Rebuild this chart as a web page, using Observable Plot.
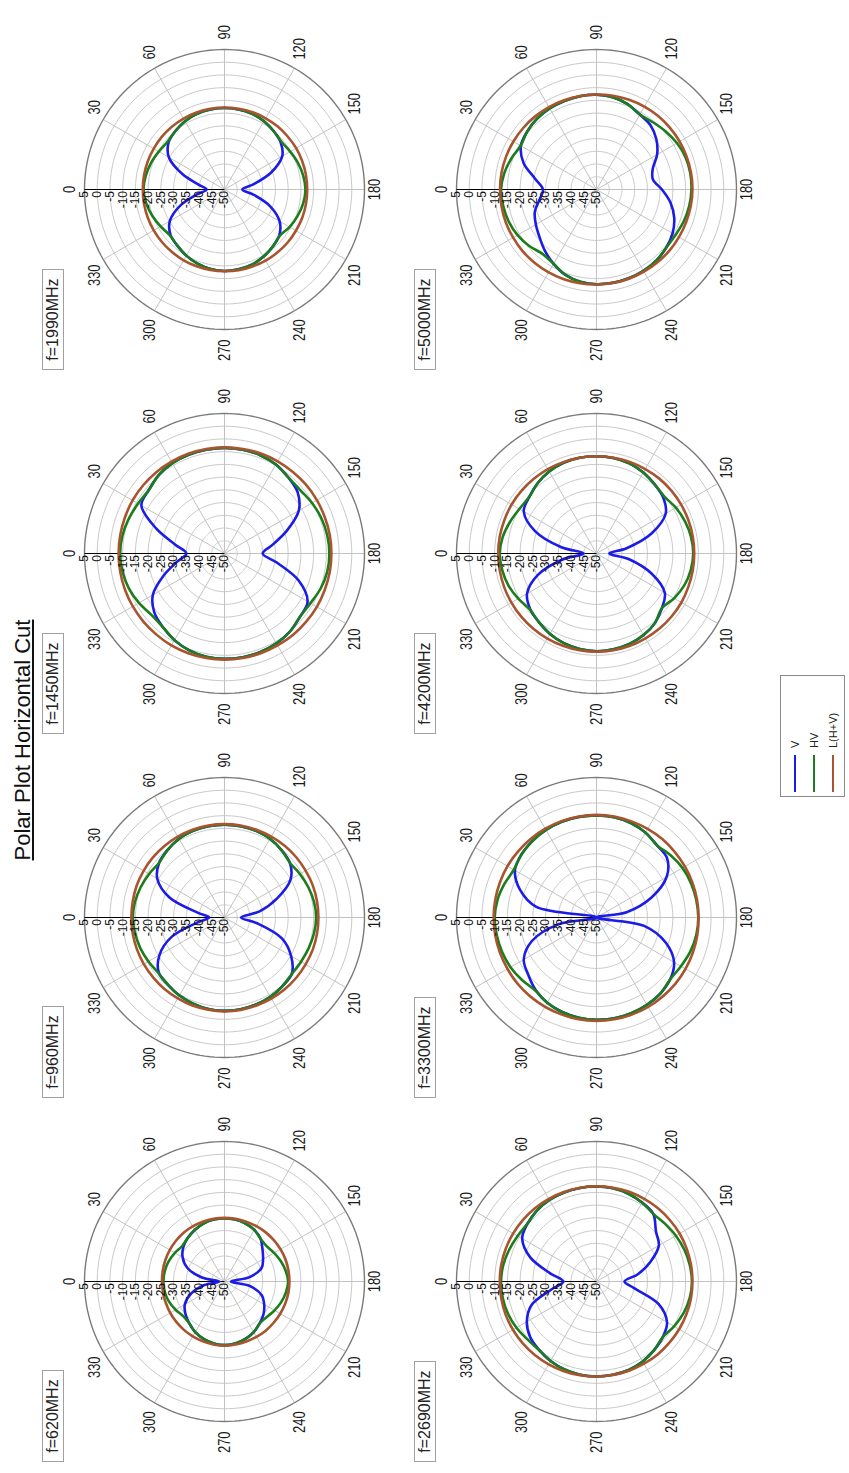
<!DOCTYPE html>
<html>
<head>
<meta charset="utf-8">
<script src="https://cdn.jsdelivr.net/npm/d3@7"></script>
<script src="https://cdn.jsdelivr.net/npm/@observablehq/plot@0.6"></script>
<style>
html,body{margin:0;padding:0;background:#fff;}
body{width:849px;height:1473px;overflow:hidden;position:relative;font-family:"Liberation Sans",Arial,sans-serif;}
#page{position:absolute;left:0;top:0;width:1473px;height:849px;transform-origin:0 0;transform:translate(0px,1473px) rotate(-90deg);background:#fff;}
#title{position:absolute;left:0;width:1466px;top:12px;text-align:center;font-size:22px;line-height:22px;text-decoration:underline;color:#111;}
.cell{position:absolute;width:364px;height:372px;}
.cell svg{position:absolute;left:0;top:0;overflow:visible;}
.flabel{position:absolute;left:2px;top:4px;border:1px solid #a0a0a0;background:#fff;font-size:16px;line-height:20px;padding:0 8px;color:#222;z-index:2;white-space:nowrap;}
#legend{position:absolute;left:676px;top:780px;width:122px;height:65px;border:1px solid #8a8a8a;box-sizing:border-box;background:#fff;}
.litem{position:absolute;left:0;width:120px;height:14px;}
.lline{position:absolute;left:4px;top:6px;width:37px;height:2px;}
.ltext{position:absolute;left:48px;top:0;font-size:11px;line-height:14px;color:#222;}
</style>
</head>
<body>
<div id="page">
  <div id="title">Polar Plot Horizontal Cut</div>
  <div id="legend"></div>
</div>
<script>
// ---------- chart values ----------
const title = "Polar Plot Horizontal Cut";
const freqLabels = ["f=620MHz","f=960MHz","f=1450MHz","f=1990MHz","f=2690MHz","f=3300MHz","f=4200MHz","f=5000MHz"];
const seriesNames = ["V","HV","L(H+V)"];
const seriesColors = ["#1c1ce8","#1b7d1b","#a8552f"];
const angleTicks = [0,30,60,90,120,150,180,210,240,270,300,330];
const radialTicks = [5,0,-5,-10,-15,-20,-25,-30,-35,-40,-45,-50];
const angles = [0,10,20,30,40,50,60,70,80,90,100,110,120,130,140,150,160,170,180,190,200,210,220,230,240,250,260,270,280,290,300,310,320,330,340,350];

const v620  = [-48,-41,-34.5,-31,-28.9,-27.6,-26.6,-25.8,-25.3,-25.2,-25.3,-25.8,-26.6,-28,-30.5,-32.5,-34.5,-40,-47.5,-40,-34.5,-32,-30,-28.5,-27,-26,-25.3,-25,-25.3,-26,-27,-28.5,-30,-32,-36,-42];
const hv620 = [-26,-26.2,-26.7,-27.5,-28.3,-27.6,-26.6,-25.8,-25.3,-25.2,-25.3,-25.8,-26.6,-28,-28.4,-27.5,-26.5,-25.6,-25,-25.5,-26.3,-27.3,-28.3,-28.5,-27,-26,-25.3,-25,-25.3,-26,-27,-28.5,-28.8,-27.8,-26.8,-26.2];
const l620  = [-25.5,-25.4,-25.3,-25.2,-25.1,-25,-25,-25,-25,-25,-25,-25,-24.9,-24.8,-24.7,-24.6,-24.5,-24.5,-24.5,-24.5,-24.6,-24.7,-24.8,-24.8,-24.9,-24.9,-24.9,-24.8,-24.9,-25,-25.1,-25.2,-25.3,-25.4,-25.5,-25.5];

const v960  = [-44,-39.5,-27,-19.5,-16.5,-15.3,-14.3,-13.8,-13.6,-13.5,-13.6,-13.8,-14.3,-15.3,-16.5,-20,-28,-36,-43.5,-37,-26,-19.8,-15.5,-14.7,-14,-13.6,-13.4,-13.3,-13.5,-14,-14.6,-15.5,-16.3,-20.5,-28,-39.5];
const hv960 = [-14,-14.3,-15,-15.8,-16.5,-15.3,-14.3,-13.8,-13.6,-13.5,-13.6,-13.8,-14.3,-15.3,-16.5,-15.8,-15,-14.3,-14,-14.3,-14.8,-15.3,-15.5,-14.7,-14,-13.6,-13.4,-13.3,-13.5,-14,-14.6,-15.5,-16.1,-15.5,-14.8,-14.3];
const l960  = [-13.4,-13.4,-13.3,-13.3,-13.3,-13.3,-13.3,-13.3,-13.3,-13.3,-13.3,-13.3,-13.3,-13.2,-13.2,-13.2,-13.1,-13.1,-13.1,-13.1,-13.1,-13.2,-13.2,-13.2,-13.2,-13.2,-13.1,-13.1,-13.2,-13.2,-13.3,-13.3,-13.4,-13.4,-13.4,-13.4];

const v1450  = [-35,-30.5,-21.5,-12.3,-11.2,-9.8,-9,-8.7,-8.6,-8.5,-8.6,-8.9,-9.6,-11,-12.5,-16.3,-24,-31,-35,-29,-19,-12.3,-11.3,-10,-9.2,-8.8,-8.6,-8.6,-8.8,-9.5,-10.7,-12.3,-14,-17.5,-24.5,-31];
const hv1450 = [-9,-9.3,-10,-10.8,-11.2,-9.8,-9,-8.7,-8.6,-8.5,-8.6,-8.9,-9.6,-11,-11.2,-10.3,-9.5,-9,-8.8,-9,-9.8,-11,-11.3,-10,-9.2,-8.8,-8.6,-8.6,-8.8,-9.5,-10.7,-12.3,-12.5,-11.2,-10,-9.3];
const l1450  = [-8.4,-8.4,-8.4,-8.3,-8.3,-8.3,-8.3,-8.3,-8.3,-8.3,-8.3,-8.2,-8.2,-8.2,-8.1,-8.1,-8.1,-8,-8,-8,-8.1,-8.1,-8.2,-8.2,-8.3,-8.3,-8.3,-8.3,-8.3,-8.3,-8.3,-8.4,-8.4,-8.4,-8.4,-8.4];

const v1990  = [-43,-40,-32.5,-24.8,-21.3,-20,-19,-18.4,-18.1,-18,-18.1,-18.4,-19,-20,-21.2,-23.8,-30.5,-38.5,-43,-38.5,-31,-25,-21.9,-20.6,-19.5,-18.6,-18.2,-18,-18.3,-19,-20,-21.2,-22.3,-25.2,-31.5,-39];
const hv1990 = [-18.2,-18.6,-19.3,-20.2,-20.8,-20,-19,-18.4,-18.1,-18,-18.1,-18.4,-19,-20,-20.8,-20.2,-19.3,-18.6,-18.2,-18.6,-19.5,-20.5,-21.7,-20.6,-19.5,-18.6,-18.2,-18,-18.3,-19,-20,-21.2,-22,-21,-19.8,-18.8];
const l1990  = [-17.9,-17.9,-17.9,-17.9,-17.8,-17.8,-17.8,-17.8,-17.8,-17.8,-17.8,-17.7,-17.7,-17.6,-17.6,-17.5,-17.5,-17.5,-17.5,-17.5,-17.5,-17.6,-17.6,-17.7,-17.7,-17.8,-17.8,-17.9,-17.9,-17.9,-17.9,-17.9,-17.9,-17.9,-17.9,-17.9];

const v2690  = [-37,-31.5,-22.3,-16.3,-14.6,-13.6,-13,-12.8,-12.7,-12.7,-12.8,-13.3,-14.2,-15.3,-19.5,-21.7,-27.5,-33.5,-39,-35,-24,-18,-16,-14.8,-13.7,-13,-12.8,-12.7,-12.8,-13.2,-13.9,-14.9,-16,-18.4,-22.8,-32];
const hv2690 = [-12.5,-12.8,-13.5,-14.2,-14.6,-13.6,-13,-12.8,-12.7,-12.7,-12.8,-13.3,-14.2,-15.3,-14.8,-14,-13.3,-12.8,-12.5,-12.8,-13.6,-14.8,-16,-14.8,-13.7,-13,-12.8,-12.7,-12.8,-13.2,-13.9,-14.9,-14.6,-13.7,-13,-12.6];
const l2690  = [-12,-12,-12.1,-12.2,-12.3,-12.4,-12.5,-12.6,-12.6,-12.6,-12.6,-12.5,-12.5,-12.4,-12.4,-12.3,-12.3,-12.3,-12.3,-12.3,-12.4,-12.5,-12.6,-12.6,-12.7,-12.7,-12.7,-12.7,-12.6,-12.5,-12.4,-12.3,-12.2,-12.1,-12,-12];

const v3300  = [-50,-26,-18,-13,-11.5,-10.8,-10.3,-10,-9.9,-9.9,-10,-10.5,-11.5,-13,-13.8,-18.2,-27,-38,-50,-31,-21,-14.8,-12.2,-11,-10.4,-10,-9.8,-9.8,-10,-10.5,-11.3,-12.8,-15,-17,-23,-35];
const hv3300 = [-10,-10.5,-11.5,-12.5,-11.5,-10.8,-10.3,-10,-9.9,-9.9,-10,-10.5,-11.5,-13,-12,-11,-10.5,-10.2,-10,-10.2,-10.8,-11.7,-12.2,-11,-10.4,-10,-9.8,-9.8,-10,-10.5,-11.3,-12.6,-11.8,-11,-10.5,-10.2];
const l3300  = [-9.6,-9.6,-9.6,-9.6,-9.7,-9.7,-9.7,-9.7,-9.7,-9.7,-9.7,-9.8,-9.8,-9.8,-9.9,-9.9,-9.9,-9.9,-9.9,-9.8,-9.7,-9.6,-9.5,-9.5,-9.4,-9.4,-9.4,-9.4,-9.4,-9.5,-9.5,-9.5,-9.5,-9.6,-9.6,-9.6];

const v4200  = [-45,-36,-24.3,-17,-15.5,-14,-12.8,-12.1,-11.8,-11.8,-11.9,-12.3,-13.2,-14.5,-15.8,-18.6,-27,-38,-45,-37,-27,-19,-16.5,-14.3,-13,-12.2,-11.8,-11.6,-11.9,-12.5,-13.5,-14.8,-16,-18.5,-25.5,-36.5];
const hv4200 = [-12,-12.6,-13.8,-15,-15.5,-14,-12.8,-12.1,-11.8,-11.8,-11.9,-12.3,-13.2,-14.5,-15.2,-14,-13,-12.3,-12,-12.4,-13.3,-14.8,-16.5,-14.3,-13,-12.2,-11.8,-11.6,-11.9,-12.5,-13.5,-14.8,-15.8,-14.5,-13.2,-12.4];
const l4200  = [-11.4,-11.4,-11.5,-11.5,-11.6,-11.7,-11.7,-11.8,-11.8,-11.8,-11.8,-11.7,-11.7,-11.6,-11.6,-11.6,-11.6,-11.6,-11.6,-11.6,-11.6,-11.5,-11.5,-11.5,-11.5,-11.4,-11.4,-11.4,-11.4,-11.4,-11.4,-11.4,-11.4,-11.4,-11.4,-11.4];

const v5000  = [-29,-25.5,-19.5,-15.7,-14.5,-13.7,-13.2,-13,-12.8,-12.8,-13.2,-14.3,-16,-17,-19.3,-22.5,-26.5,-27.5,-24.3,-20.5,-17.5,-15.5,-14.3,-13.5,-13.1,-12.9,-12.8,-12.8,-13.2,-14.3,-16.3,-18.5,-20.8,-22.5,-24.2,-27.3];
const hv5000 = [-12.5,-13.2,-14.4,-15.6,-14.5,-13.7,-13.2,-13,-12.8,-12.8,-13.2,-14.3,-16,-15.5,-14.5,-13.5,-12.8,-12.6,-12.7,-13,-13.5,-14.2,-14.3,-13.5,-13.1,-12.9,-12.8,-12.8,-13.2,-14.3,-16.3,-17,-15.5,-14.2,-13.3,-12.8];
const l5000  = [-12.1,-12.1,-12.2,-12.3,-12.4,-12.5,-12.6,-12.7,-12.7,-12.7,-12.6,-12.5,-12.4,-12.3,-12.3,-12.3,-12.3,-12.3,-12.3,-12.4,-12.5,-12.6,-12.6,-12.7,-12.7,-12.7,-12.7,-12.7,-12.6,-12.5,-12.4,-12.3,-12.2,-12.2,-12.1,-12.1];

const panelSeries = [
  [v620, hv620, l620], [v960, hv960, l960], [v1450, hv1450, l1450], [v1990, hv1990, l1990],
  [v2690, hv2690, l2690], [v3300, hv3300, l3300], [v4200, hv4200, l4200], [v5000, hv5000, l5000]
];

// ---------- layout ----------
const FONT = '"Liberation Sans", Arial, sans-serif';
const CELL_W = 364, CELL_H = 372, CELL_X0 = 9.3, CELL_Y0 = 37.5;
const R_PX = 140;                       // pixel radius of the outer (5 dB) ring
const DB_MIN = radialTicks[radialTicks.length - 1], DB_MAX = radialTicks[0];
const SPAN = DB_MAX - DB_MIN;           // 55 units
const K = R_PX / SPAN;                  // px per unit
const LABEL_R = 150 / K;                // angle label radius (units)
const NARROW = 0.76;

const rad = a => a * Math.PI / 180;
const P = (a, r) => ({x: r * Math.sin(rad(a)), y: r * Math.cos(rad(a))});   // r in units from centre
const fromDb = db => db - DB_MIN;
const circleAngles = d3.range(0, 362, 2);

function panel(series) {
  const innerRings = radialTicks.slice(1, -1).flatMap(t => circleAngles.map(a => ({t, ...P(a, fromDb(t))})));
  const outerRing = circleAngles.map(a => P(a, fromDb(DB_MAX)));
  const pts = vals => angles.map((a, i) => P(a, fromDb(vals[i])));
  const lab = (filter, opts) => Plot.text(angleTicks.filter(filter), {
    x: a => P(a, LABEL_R).x, y: a => P(a, LABEL_R).y, text: a => String(a),
    fontSize: 17, fill: "#1a1a1a", ...opts
  });
  return Plot.plot({
    width: CELL_W, height: CELL_H, margin: 0,
    x: {domain: [-CELL_W / 2 / K, CELL_W / 2 / K], axis: null},
    y: {domain: [-CELL_H / 2 / K, CELL_H / 2 / K], axis: null},
    style: {background: "transparent", overflow: "visible", fontFamily: FONT},
    marks: [
      Plot.line(innerRings, {x: "x", y: "y", z: "t", stroke: "#c9c9c9", strokeWidth: 1}),
      Plot.link(angleTicks.filter(a => a !== 0), {
        x1: a => P(a, 0).x, y1: a => P(a, 0).y, x2: a => P(a, SPAN).x, y2: a => P(a, SPAN).y,
        stroke: "#c2c2c2", strokeWidth: 1
      }),
      Plot.line(outerRing, {x: "x", y: "y", stroke: "#7a7a7a", strokeWidth: 1.4}),
      Plot.link([0], {
        x1: a => P(a, 0).x, y1: a => P(a, 0).y, x2: a => P(a, SPAN).x, y2: a => P(a, SPAN).y,
        stroke: "#000", strokeWidth: 1
      }),
      ...series.map((vals, k) => Plot.line(pts(vals), {
        x: "x", y: "y", stroke: seriesColors[k], strokeWidth: 2.6, curve: "catmull-rom-closed"
      })),
      Plot.text(radialTicks, {
        x: t => P(0, fromDb(t)).x, y: t => P(0, fromDb(t)).y, text: t => String(t),
        textAnchor: "end", lineAnchor: "middle", dx: -1.5, fontSize: 12, fill: "#111"
      }),
      lab(a => a === 0, {textAnchor: "middle", lineAnchor: "bottom"}),
      lab(a => a === 180, {textAnchor: "middle", lineAnchor: "middle"}),
      lab(a => a > 0 && a < 180, {textAnchor: "start", lineAnchor: "middle"}),
      lab(a => a > 180, {textAnchor: "end", lineAnchor: "middle"})
    ]
  });
}

const page = document.getElementById("page");
document.getElementById("title").textContent = title;

panelSeries.forEach((series, i) => {
  const col = i % 4, row = Math.floor(i / 4);
  const cell = document.createElement("div");
  cell.className = "cell";
  cell.style.left = (CELL_X0 + col * CELL_W) + "px";
  cell.style.top = (CELL_Y0 + row * CELL_H) + "px";
  const svg = panel(series);
  cell.appendChild(svg);
  const lbl = document.createElement("div");
  lbl.className = "flabel";
  lbl.textContent = freqLabels[i];
  cell.appendChild(lbl);
  page.appendChild(cell);
  // condensed look for the angle labels
  svg.querySelectorAll("text").forEach(t => {
    if (parseFloat(getComputedStyle(t).fontSize) > 15) {
      let tr = t.getAttribute("transform") || "";
      const x = parseFloat(t.getAttribute("x"));
      if (x) { tr += ` translate(${x},0)`; t.removeAttribute("x"); }
      t.setAttribute("transform", tr + ` scale(${NARROW},1)`);
    }
  });
});

// legend
const legend = document.getElementById("legend");
seriesNames.forEach((name, k) => {
  const item = document.createElement("div");
  item.className = "litem";
  item.style.top = (6.5 + k * 19) + "px";
  const line = document.createElement("div");
  line.className = "lline";
  line.style.background = seriesColors[k];
  const txt = document.createElement("div");
  txt.className = "ltext";
  txt.textContent = name;
  item.appendChild(line);
  item.appendChild(txt);
  legend.appendChild(item);
});
</script>
</body>
</html>
